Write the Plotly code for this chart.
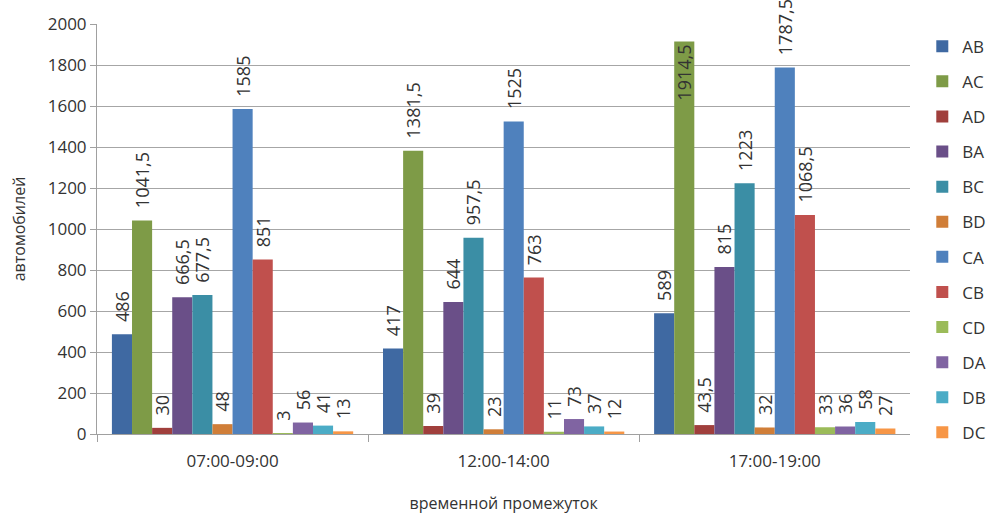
import plotly.graph_objects as go

# Time windows (x categories)
periods = ["07:00-09:00", "12:00-14:00", "17:00-19:00"]

# Vehicle counts per direction for each time window
AB = [486, 417, 589]
AC = [1041.5, 1381.5, 1914.5]
AD = [30, 39, 43.5]
BA = [666.5, 644, 815]
BC = [677.5, 957.5, 1223]
BD = [48, 23, 32]
CA = [1585, 1525, 1787.5]
CB = [851, 763, 1068.5]
CD = [3, 11, 33]
DA = [56, 73, 36]
DB = [41, 37, 58]
DC = [13, 12, 27]

y_ticks = [0, 200, 400, 600, 800, 1000, 1200, 1400, 1600, 1800, 2000]

series = [
    ("AB", AB, "#3F69A2"),
    ("AC", AC, "#7E9B47"),
    ("AD", AD, "#A03F3C"),
    ("BA", BA, "#6A4F88"),
    ("BC", BC, "#3B8EA5"),
    ("BD", BD, "#D07E38"),
    ("CA", CA, "#4F81BD"),
    ("CB", CB, "#C0504D"),
    ("CD", CD, "#9BBB59"),
    ("DA", DA, "#8064A2"),
    ("DB", DB, "#4BACC6"),
    ("DC", DC, "#F79646"),
]

FONT = "Open Sans"
TEXT_COLOR = "#333333"
Y_MAX = 2000


def fmt(v):
    # comma as decimal separator
    return f"{v:g}".replace(".", ",")


fig = go.Figure()
for name, vals, color in series:
    labels = ["\u00a0\u00a0" + fmt(v) for v in vals]
    # a label that would run past the top of the chart is kept inside the bar
    positions = ["inside" if v > 0.9 * Y_MAX else "outside" for v in vals]
    fig.add_trace(go.Bar(
        name=name,
        x=periods,
        y=vals,
        marker=dict(color=color, line=dict(width=0)),
        text=labels,
        textposition=positions,
        insidetextanchor="end",
        textangle=-90,
        constraintext="none",
        cliponaxis=False,
        textfont=dict(family=FONT, size=18, color=TEXT_COLOR),
        insidetextfont=dict(family=FONT, size=18, color=TEXT_COLOR),
        outsidetextfont=dict(family=FONT, size=18, color=TEXT_COLOR),
        legendgroup=name,
        hoverinfo="x+y+name",
    ))

fig.update_layout(
    width=996,
    height=522,
    margin=dict(l=97, r=77, t=20, b=87),
    paper_bgcolor="white",
    plot_bgcolor="white",
    barmode="group",
    bargap=0.11,
    bargroupgap=0,
    font=dict(family=FONT, size=17, color=TEXT_COLOR),
    showlegend=True,
    legend=dict(
        xref="container", x=0.926, xanchor="left",
        yref="container", y=0.945, yanchor="top",
        maxheight=1,
        font=dict(family=FONT, size=17, color=TEXT_COLOR),
        tracegroupgap=10,
        itemwidth=30,
        bgcolor="rgba(0,0,0,0)",
    ),
    xaxis=dict(
        title=dict(text="временной промежуток", font=dict(family=FONT, size=16, color=TEXT_COLOR), standoff=26),
        showline=True, linecolor="#A0A0A0", linewidth=1,
        ticks="outside", tickson="boundaries", ticklen=7, tickcolor="#A0A0A0",
        ticklabelstandoff=12,
        tickfont=dict(family=FONT, size=17, color=TEXT_COLOR),
        showgrid=False,
    ),
    yaxis=dict(
        title=dict(text="автомобилей", font=dict(family=FONT, size=16, color=TEXT_COLOR), standoff=18),
        range=[0, Y_MAX],
        tickvals=y_ticks,
        ticksuffix="\u00a0\u00a0\u00a0",
        showline=True, linecolor="#A0A0A0", linewidth=1,
        ticks="outside", ticklen=6, tickcolor="#A0A0A0",
        showgrid=True, gridcolor="#A6A6A6", gridwidth=1,
        zeroline=False,
        tickfont=dict(family=FONT, size=17, color=TEXT_COLOR),
    ),
)

fig.write_html("out.html")
